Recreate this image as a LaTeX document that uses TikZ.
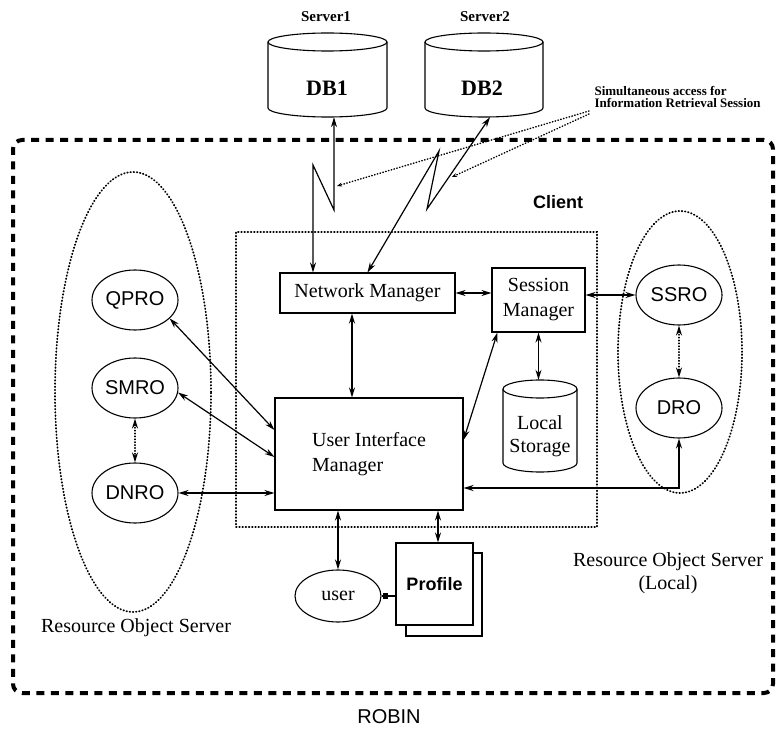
\documentclass[tikz,border=0pt]{standalone}
\usepackage{fontspec}
\setmainfont{Liberation Serif}
\setsansfont{Liberation Sans}
\usetikzlibrary{shapes.geometric,arrows.meta}
\begin{document}
\begin{tikzpicture}[x=1pt,y=-1pt,
  stroke/.style={line width=1.1pt},
  dotline/.style={line width=1.8pt, line cap=round, dash pattern=on 0.6pt off 2.6pt},
  fineline/.style={line width=1.5pt, line cap=round, dash pattern=on 0.5pt off 2.4pt},
  heavydash/.style={line width=4pt, dash pattern=on 8pt off 6.5pt},
  biarrow/.style={line width=1.2pt, {Stealth[length=10pt,width=6pt]}-{Stealth[length=10pt,width=6pt]}},
  dotarrow/.style={fineline, {Stealth[length=10pt,width=6pt]}-{Stealth[length=10pt,width=6pt]}},
  callline/.style={fineline, -{Stealth[length=5pt,width=4pt]}},
  mgr/.style={draw, stroke, inner sep=0pt, font=\rmfamily\fontsize{20}{25}\selectfont, align=center},
  obj/.style={draw, stroke, ellipse, inner sep=0pt, minimum width=86pt, minimum height=60pt, font=\sffamily\fontsize{20}{24}\selectfont},
  txt/.style={font=\rmfamily\fontsize{20}{23}\selectfont, align=center},
  srvlbl/.style={font=\rmfamily\bfseries\fontsize{15}{18}\selectfont},
  dblbl/.style={font=\rmfamily\bfseries\fontsize{22}{26}\selectfont},
]
\useasboundingbox (0,0) rectangle (777,738);

% outer ROBIN border
\node[draw, heavydash, rounded corners=9pt, inner sep=0pt, minimum width=760pt, minimum height=553pt] (robinbox) at (393,416.5) {};

% client box and resource server groupings
\node[draw, dotline, inner sep=0pt, minimum width=361pt, minimum height=295pt] (clientbox) at (416.5,379.5) {};
\node[draw, dotline, ellipse, inner sep=0pt, minimum width=156pt, minimum height=440pt] (rosleft) at (133,392) {};
\node[draw, dotline, ellipse, inner sep=0pt, minimum width=124pt, minimum height=282pt] (rosright) at (680,352) {};

% database cylinders
\node[inner sep=0pt, minimum width=119pt, minimum height=84pt] (db1) at (327.5,75) {};
\draw[stroke] (268,42) -- (268,108) arc[start angle=180, end angle=360, x radius=59.5pt, y radius=9pt] -- (387,42);
\draw[stroke] (327.5,42) ellipse [x radius=59.5pt, y radius=9pt];
\node[dblbl] (db1t) at (327,88) {DB1};

\node[inner sep=0pt, minimum width=118pt, minimum height=84pt] (db2) at (484,75) {};
\draw[stroke] (425,42) -- (425,108) arc[start angle=180, end angle=360, x radius=59pt, y radius=9pt] -- (543,42);
\draw[stroke] (484,42) ellipse [x radius=59pt, y radius=9pt];
\node[dblbl] (db2t) at (482,88) {DB2};

\node[srvlbl] (s1) at (326,17) {Server1};
\node[srvlbl] (s2) at (485,17) {Server2};

% local storage cylinder
\node[inner sep=0pt, minimum width=74pt, minimum height=92pt] (ls) at (540,426) {};
\draw[stroke] (503,389) -- (503,463) arc[start angle=180, end angle=360, x radius=37pt, y radius=9pt] -- (577,389);
\draw[stroke] (540,389) ellipse [x radius=37pt, y radius=9pt];
\node[txt] (lst) at (540,436) {Local\\Storage};

% managers
\node[mgr, minimum width=175pt, minimum height=40pt] (nm) at (367.5,293) {Network Manager};
\node[mgr, minimum width=93pt, minimum height=64pt] (sm) at (538.5,300) {Session\\Manager};
\node[mgr, minimum width=188pt, minimum height=112pt, align=left] (uim) at (369,454) {User Interface\\Manager};

% resource objects
\node[obj] (qpro) at (135,300) {QPRO};
\node[obj] (smro) at (135,388) {SMRO};
\node[obj] (dnro) at (135,493) {DNRO};
\node[obj] (ssro) at (679,295) {SSRO};
\node[obj] (dro) at (679,408) {DRO};

% user and profile
\node[draw, stroke, ellipse, inner sep=0pt, minimum width=86pt, minimum height=52pt, font=\rmfamily\fontsize{20}{24}\selectfont] (user) at (338,596) {user};
\node[draw, stroke, fill=white, inner sep=0pt, minimum width=76pt, minimum height=83pt] (profback) at (444,594.5) {};
\node[draw, stroke, fill=white, inner sep=0pt, minimum width=77pt, minimum height=82pt, font=\sffamily\bfseries\fontsize{18}{22}\selectfont] (prof) at (434.5,584) {Profile};
\draw[stroke] (user.east) -- (user.east -| prof.west);
\node[fill, inner sep=0pt, minimum size=5.5pt] (usq) at ([xshift=4pt]user.east) {};

% labels
\node[font=\sffamily\bfseries\fontsize{18}{22}\selectfont] (clientlbl) at (558,202) {Client};
\node[txt] (rosl) at (136,628) {Resource Object Server};
\node[txt] (rosr) at (668,573) {Resource Object Server\\(Local)};
\node[font=\sffamily\fontsize{20}{24}\selectfont] (robin) at (389,717) {ROBIN};
\node[font=\rmfamily\bfseries\fontsize{13}{12}\selectfont, align=left, anchor=west] (callout) at (591,97) {Simultaneous access for\\Information Retrieval Session};

% connectors
\draw[biarrow] (qpro.-28) -- ([yshift=24pt]uim.west);
\draw[biarrow] (smro.-6) -- ([yshift=-3pt]uim.west);
\draw[biarrow] (dnro.east) -- (dnro.east -| uim.west);
\draw[dotarrow] (smro.south) -- (dnro.north);
\draw[biarrow] ([xshift=-15.5pt]nm.south) -- ([xshift=-15.5pt]nm.south |- uim.north);
\draw[biarrow] (nm.east) -- (nm.east -| sm.west);
\draw[biarrow] (ssro.west) -- (ssro.west -| sm.east);
\draw[biarrow] (sm.south) -- (sm.south |- ls.north);
\draw[biarrow] ([xshift=6pt]sm.south west) -- ([yshift=14pt]uim.east);
\draw[dotarrow] (ssro.south) -- (dro.north);
\draw[biarrow] (dro.south) |- ([yshift=-34pt]uim.east);
\draw[biarrow] (user.north) -- (user.north |- uim.south);
\draw[biarrow] ([xshift=3.5pt]prof.north) -- ([xshift=3.5pt]prof.north |- uim.south);

% wireless links to servers
\coordinate (b1a) at (334,210);
\coordinate (b1b) at (313,165);
\draw[biarrow] ([xshift=6.5pt]db1.south) -- (b1a) -- (b1b) -- (b1b |- nm.north);
\coordinate (b2a) at (427,209);
\coordinate (b2b) at (439,151);
\draw[biarrow] ([xshift=6pt]db2.south) -- (b2a) -- (b2b) -- (nm.north);

% callout lines
\coordinate (cs1) at (589,111);
\coordinate (cs2) at (589,114);
\coordinate (c1end) at (337,186);
\coordinate (c2end) at (452,177);
\draw[callline] (cs1) -- (c1end);
\draw[callline] (cs2) -- (c2end);
\end{tikzpicture}
\end{document}
